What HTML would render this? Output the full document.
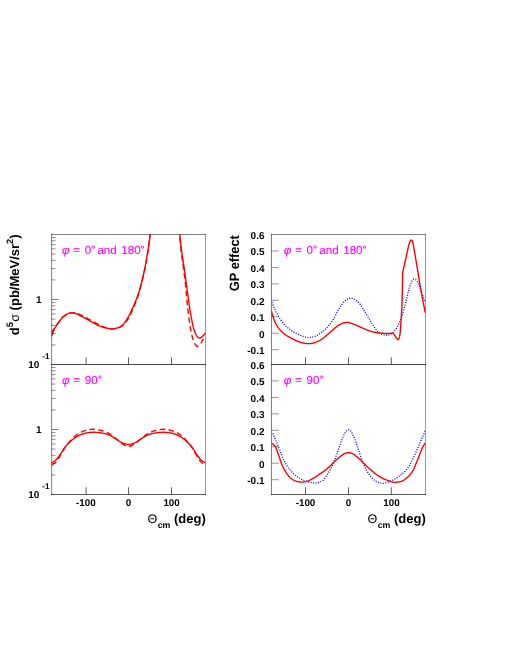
<!DOCTYPE html>
<html><head><meta charset="utf-8"><title>plot</title>
<style>html,body{margin:0;padding:0;background:#fff}body{width:510px;height:660px;overflow:hidden;font-family:"Liberation Sans",sans-serif}</style></head>
<body>
<svg width="510" height="660" viewBox="0 0 510 660" style="display:block;text-rendering:geometricPrecision;will-change:transform">
<rect width="510" height="660" fill="#fff"/>
<defs><clipPath id="cTL"><rect x="51.5" y="234.5" width="154.0" height="130.0"/></clipPath><clipPath id="cBL"><rect x="51.5" y="364.5" width="154.0" height="130.0"/></clipPath><clipPath id="cTR"><rect x="271.5" y="234.5" width="154.0" height="130.0"/></clipPath><clipPath id="cBR"><rect x="271.5" y="364.5" width="154.0" height="130.0"/></clipPath></defs>
<path d="M51.50,332.30 L51.70,332.01 L51.91,331.71 L52.11,331.41 L52.32,331.11 L52.53,330.81 L52.73,330.51 L52.94,330.21 L53.14,329.91 L53.34,329.63 L53.53,329.34 L53.72,329.07 L53.90,328.80 L54.07,328.55 L54.23,328.31 L54.38,328.08 L54.52,327.86 L54.66,327.65 L54.80,327.44 L54.94,327.22 L55.09,327.00 L55.25,326.78 L55.41,326.53 L55.60,326.28 L55.80,326.00 L56.02,325.70 L56.26,325.39 L56.51,325.06 L56.77,324.73 L57.05,324.38 L57.32,324.02 L57.61,323.67 L57.89,323.31 L58.18,322.95 L58.46,322.59 L58.73,322.24 L59.00,321.90 L59.26,321.56 L59.52,321.21 L59.78,320.86 L60.04,320.51 L60.29,320.16 L60.55,319.81 L60.81,319.47 L61.06,319.13 L61.32,318.81 L61.58,318.49 L61.84,318.19 L62.10,317.90 L62.36,317.63 L62.63,317.36 L62.90,317.11 L63.16,316.87 L63.43,316.63 L63.70,316.41 L63.97,316.19 L64.24,315.98 L64.50,315.77 L64.77,315.58 L65.04,315.39 L65.30,315.20 L65.56,315.02 L65.82,314.85 L66.08,314.68 L66.34,314.53 L66.60,314.38 L66.86,314.23 L67.11,314.09 L67.37,313.96 L67.63,313.84 L67.88,313.72 L68.14,313.61 L68.40,313.50 L68.66,313.40 L68.92,313.31 L69.17,313.22 L69.43,313.14 L69.69,313.06 L69.94,312.99 L70.20,312.93 L70.46,312.87 L70.72,312.82 L70.98,312.78 L71.24,312.74 L71.50,312.70 L71.76,312.67 L72.02,312.64 L72.29,312.62 L72.55,312.60 L72.81,312.59 L73.08,312.59 L73.34,312.59 L73.61,312.60 L73.88,312.61 L74.15,312.63 L74.42,312.66 L74.70,312.70 L74.97,312.74 L75.23,312.78 L75.49,312.83 L75.74,312.88 L76.00,312.94 L76.26,313.01 L76.53,313.08 L76.81,313.17 L77.12,313.28 L77.45,313.40 L77.81,313.54 L78.20,313.70 L78.63,313.88 L79.09,314.09 L79.58,314.32 L80.09,314.57 L80.63,314.83 L81.18,315.10 L81.73,315.38 L82.30,315.67 L82.86,315.95 L83.42,316.24 L83.97,316.52 L84.50,316.80 L85.03,317.07 L85.55,317.35 L86.08,317.63 L86.60,317.91 L87.13,318.19 L87.66,318.48 L88.18,318.76 L88.71,319.05 L89.23,319.34 L89.76,319.62 L90.28,319.91 L90.80,320.20 L91.32,320.49 L91.84,320.78 L92.35,321.08 L92.87,321.38 L93.39,321.68 L93.90,321.97 L94.41,322.27 L94.93,322.57 L95.45,322.86 L95.96,323.14 L96.48,323.43 L97.00,323.70 L97.52,323.97 L98.04,324.24 L98.57,324.51 L99.09,324.78 L99.62,325.04 L100.14,325.30 L100.67,325.55 L101.20,325.80 L101.72,326.04 L102.25,326.27 L102.77,326.49 L103.30,326.70 L103.84,326.90 L104.39,327.10 L104.95,327.29 L105.52,327.47 L106.09,327.65 L106.65,327.82 L107.20,327.98 L107.74,328.13 L108.25,328.26 L108.74,328.39 L109.19,328.50 L109.60,328.60 L109.96,328.69 L110.26,328.76 L110.52,328.82 L110.75,328.87 L110.96,328.91 L111.15,328.94 L111.34,328.96 L111.55,328.97 L111.77,328.97 L112.04,328.96 L112.34,328.93 L112.70,328.90 L113.12,328.86 L113.58,328.81 L114.09,328.75 L114.62,328.68 L115.18,328.60 L115.75,328.51 L116.33,328.41 L116.90,328.30 L117.46,328.17 L118.01,328.03 L118.52,327.87 L119.00,327.70 L119.45,327.52 L119.88,327.33 L120.29,327.13 L120.69,326.93 L121.07,326.71 L121.45,326.47 L121.82,326.21 L122.19,325.94 L122.56,325.64 L122.94,325.32 L123.31,324.98 L123.70,324.60 L124.09,324.19 L124.49,323.76 L124.89,323.30 L125.29,322.81 L125.69,322.31 L126.09,321.78 L126.48,321.24 L126.88,320.67 L127.27,320.10 L127.65,319.51 L128.03,318.91 L128.40,318.30 L128.76,317.68 L129.12,317.04 L129.46,316.39 L129.81,315.71 L130.15,315.03 L130.48,314.33 L130.81,313.62 L131.15,312.90 L131.48,312.16 L131.82,311.42 L132.16,310.66 L132.50,309.90 L132.85,309.12 L133.20,308.33 L133.56,307.52 L133.93,306.70 L134.29,305.86 L134.65,305.02 L135.01,304.17 L135.36,303.31 L135.71,302.46 L136.05,301.60 L136.38,300.75 L136.70,299.90 L137.01,299.06 L137.30,298.24 L137.59,297.42 L137.87,296.60 L138.14,295.79 L138.41,294.96 L138.67,294.13 L138.93,293.27 L139.20,292.40 L139.46,291.50 L139.73,290.57 L140.00,289.60 L140.28,288.59 L140.56,287.53 L140.84,286.43 L141.13,285.31 L141.42,284.16 L141.70,283.00 L141.98,281.83 L142.26,280.67 L142.53,279.52 L142.80,278.38 L143.05,277.27 L143.30,276.20 L143.54,275.17 L143.76,274.17 L143.98,273.19 L144.19,272.24 L144.40,271.30 L144.60,270.36 L144.80,269.41 L145.00,268.45 L145.19,267.46 L145.39,266.45 L145.59,265.40 L145.80,264.30 L146.01,263.15 L146.22,261.97 L146.44,260.74 L146.65,259.49 L146.87,258.22 L147.08,256.93 L147.29,255.63 L147.50,254.33 L147.71,253.03 L147.91,251.74 L148.11,250.46 L148.30,249.20 L148.49,247.95 L148.67,246.71 L148.84,245.47 L149.02,244.23 L149.19,242.99 L149.36,241.76 L149.52,240.52 L149.68,239.29 L149.84,238.06 L150.00,236.84 L150.15,235.62 L150.30,234.40 L150.45,233.19 L150.59,231.98 L150.73,230.77 L150.86,229.57 L151.00,228.37 L151.13,227.18 L151.25,225.98 L151.38,224.79 L151.51,223.59 L151.64,222.40 L151.77,221.20 L151.90,220.00" fill="none" stroke="#ff0000" stroke-width="1.4" stroke-linejoin="round" stroke-linecap="butt" stroke-dasharray="5.5 3.4" clip-path="url(#cTL)"/>
<path d="M177.90,220.00 L178.03,221.19 L178.17,222.37 L178.30,223.53 L178.43,224.69 L178.56,225.85 L178.69,227.02 L178.83,228.19 L178.96,229.39 L179.09,230.60 L179.23,231.83 L179.36,233.10 L179.50,234.40 L179.64,235.74 L179.77,237.12 L179.90,238.54 L180.04,239.98 L180.17,241.44 L180.31,242.91 L180.44,244.39 L180.59,245.88 L180.73,247.36 L180.88,248.82 L181.04,250.27 L181.20,251.70 L181.37,253.10 L181.55,254.49 L181.74,255.86 L181.93,257.22 L182.12,258.58 L182.32,259.93 L182.52,261.29 L182.72,262.66 L182.92,264.04 L183.12,265.44 L183.31,266.86 L183.50,268.30 L183.69,269.80 L183.89,271.38 L184.09,273.01 L184.30,274.67 L184.50,276.35 L184.70,278.02 L184.89,279.66 L185.08,281.25 L185.26,282.77 L185.42,284.20 L185.57,285.51 L185.70,286.70 L185.81,287.73 L185.90,288.61 L185.96,289.36 L186.02,290.02 L186.06,290.61 L186.10,291.15 L186.13,291.68 L186.17,292.21 L186.21,292.79 L186.26,293.43 L186.32,294.15 L186.40,295.00 L186.49,295.95 L186.59,296.96 L186.69,298.03 L186.80,299.14 L186.92,300.29 L187.04,301.46 L187.16,302.66 L187.29,303.86 L187.41,305.07 L187.54,306.27 L187.67,307.45 L187.80,308.60 L187.93,309.75 L188.07,310.92 L188.20,312.10 L188.34,313.29 L188.48,314.48 L188.63,315.66 L188.77,316.83 L188.92,317.99 L189.06,319.12 L189.21,320.22 L189.36,321.28 L189.50,322.30 L189.64,323.28 L189.78,324.22 L189.92,325.14 L190.06,326.02 L190.20,326.88 L190.34,327.72 L190.48,328.55 L190.63,329.36 L190.78,330.15 L190.93,330.94 L191.09,331.72 L191.25,332.50 L191.42,333.28 L191.60,334.07 L191.78,334.85 L191.96,335.63 L192.15,336.39 L192.34,337.14 L192.53,337.86 L192.73,338.56 L192.92,339.23 L193.12,339.86 L193.31,340.45 L193.50,341.00 L193.69,341.50 L193.89,341.96 L194.09,342.38 L194.29,342.76 L194.49,343.12 L194.68,343.44 L194.88,343.75 L195.08,344.03 L195.27,344.29 L195.45,344.54 L195.63,344.77 L195.80,345.00 L195.96,345.22 L196.11,345.43 L196.24,345.62 L196.37,345.80 L196.50,345.97 L196.62,346.11 L196.74,346.22 L196.87,346.32 L197.01,346.39 L197.16,346.42 L197.32,346.43 L197.50,346.40 L197.69,346.33 L197.90,346.23 L198.12,346.10 L198.35,345.93 L198.58,345.74 L198.83,345.52 L199.07,345.29 L199.32,345.03 L199.57,344.76 L199.81,344.48 L200.06,344.19 L200.30,343.90 L200.54,343.59 L200.78,343.24 L201.03,342.87 L201.28,342.48 L201.53,342.07 L201.78,341.66 L202.03,341.24 L202.27,340.82 L202.51,340.41 L202.75,340.02 L202.98,339.65 L203.20,339.30 L203.41,338.97 L203.62,338.66 L203.82,338.37 L204.01,338.08 L204.20,337.80 L204.39,337.53 L204.57,337.26 L204.76,336.99 L204.94,336.72 L205.12,336.45 L205.31,336.18 L205.50,335.90" fill="none" stroke="#ff0000" stroke-width="1.4" stroke-linejoin="round" stroke-linecap="butt" stroke-dasharray="5.5 3.4" clip-path="url(#cTL)"/>
<path d="M51.50,336.20 L51.70,335.68 L51.91,335.15 L52.11,334.61 L52.32,334.07 L52.53,333.53 L52.73,332.99 L52.94,332.46 L53.14,331.94 L53.34,331.44 L53.53,330.97 L53.72,330.52 L53.90,330.10 L54.07,329.72 L54.23,329.38 L54.38,329.07 L54.52,328.79 L54.66,328.52 L54.80,328.26 L54.94,328.01 L55.09,327.76 L55.25,327.50 L55.41,327.22 L55.60,326.93 L55.80,326.60 L56.02,326.25 L56.26,325.88 L56.51,325.49 L56.77,325.10 L57.05,324.69 L57.32,324.28 L57.61,323.87 L57.89,323.46 L58.18,323.05 L58.46,322.66 L58.73,322.27 L59.00,321.90 L59.26,321.54 L59.52,321.18 L59.78,320.82 L60.04,320.47 L60.29,320.12 L60.55,319.77 L60.81,319.44 L61.06,319.11 L61.32,318.79 L61.58,318.48 L61.84,318.19 L62.10,317.90 L62.36,317.63 L62.63,317.36 L62.90,317.11 L63.16,316.87 L63.43,316.63 L63.70,316.41 L63.97,316.19 L64.24,315.98 L64.50,315.77 L64.77,315.58 L65.04,315.39 L65.30,315.20 L65.56,315.02 L65.82,314.85 L66.08,314.68 L66.34,314.52 L66.60,314.37 L66.86,314.22 L67.11,314.08 L67.37,313.95 L67.63,313.82 L67.88,313.71 L68.14,313.60 L68.40,313.50 L68.66,313.41 L68.92,313.33 L69.17,313.25 L69.43,313.19 L69.69,313.13 L69.94,313.07 L70.20,313.03 L70.46,312.99 L70.72,312.96 L70.98,312.94 L71.24,312.91 L71.50,312.90 L71.76,312.89 L72.02,312.89 L72.29,312.89 L72.55,312.89 L72.81,312.91 L73.08,312.92 L73.34,312.95 L73.61,312.99 L73.88,313.03 L74.15,313.08 L74.42,313.13 L74.70,313.20 L74.97,313.27 L75.23,313.35 L75.49,313.43 L75.74,313.51 L76.00,313.61 L76.26,313.71 L76.53,313.83 L76.81,313.95 L77.12,314.09 L77.45,314.24 L77.81,314.41 L78.20,314.60 L78.63,314.81 L79.09,315.04 L79.58,315.29 L80.09,315.55 L80.63,315.83 L81.18,316.12 L81.73,316.41 L82.30,316.71 L82.86,317.02 L83.42,317.32 L83.97,317.61 L84.50,317.90 L85.03,318.18 L85.55,318.47 L86.08,318.76 L86.60,319.06 L87.13,319.35 L87.66,319.64 L88.18,319.94 L88.71,320.23 L89.23,320.53 L89.76,320.82 L90.28,321.11 L90.80,321.40 L91.32,321.69 L91.84,321.98 L92.35,322.28 L92.87,322.57 L93.39,322.87 L93.90,323.16 L94.41,323.45 L94.93,323.74 L95.45,324.02 L95.96,324.29 L96.48,324.55 L97.00,324.80 L97.52,325.04 L98.04,325.28 L98.57,325.51 L99.09,325.74 L99.62,325.96 L100.14,326.18 L100.67,326.38 L101.20,326.58 L101.72,326.77 L102.25,326.96 L102.77,327.13 L103.30,327.30 L103.84,327.46 L104.39,327.61 L104.95,327.76 L105.52,327.89 L106.09,328.02 L106.65,328.14 L107.20,328.26 L107.74,328.36 L108.25,328.46 L108.74,328.55 L109.19,328.63 L109.60,328.70 L109.96,328.76 L110.26,328.82 L110.52,328.88 L110.75,328.92 L110.96,328.96 L111.15,328.99 L111.34,329.01 L111.55,329.01 L111.77,329.00 L112.04,328.98 L112.34,328.95 L112.70,328.90 L113.12,328.84 L113.58,328.76 L114.09,328.67 L114.62,328.57 L115.18,328.46 L115.75,328.34 L116.33,328.20 L116.90,328.05 L117.46,327.88 L118.01,327.70 L118.52,327.51 L119.00,327.30 L119.45,327.08 L119.88,326.86 L120.29,326.62 L120.69,326.37 L121.07,326.11 L121.45,325.84 L121.82,325.54 L122.19,325.23 L122.56,324.89 L122.94,324.52 L123.31,324.13 L123.70,323.70 L124.09,323.24 L124.49,322.75 L124.89,322.22 L125.29,321.67 L125.69,321.10 L126.09,320.50 L126.48,319.89 L126.88,319.26 L127.27,318.63 L127.65,317.99 L128.03,317.34 L128.40,316.70 L128.76,316.05 L129.12,315.40 L129.46,314.74 L129.81,314.06 L130.15,313.38 L130.48,312.69 L130.81,311.98 L131.15,311.27 L131.48,310.55 L131.82,309.81 L132.16,309.06 L132.50,308.30 L132.85,307.52 L133.20,306.73 L133.56,305.91 L133.93,305.09 L134.29,304.25 L134.65,303.40 L135.01,302.55 L135.36,301.69 L135.71,300.84 L136.05,299.99 L136.38,299.14 L136.70,298.30 L137.01,297.48 L137.30,296.67 L137.59,295.88 L137.87,295.09 L138.14,294.30 L138.41,293.51 L138.67,292.70 L138.93,291.88 L139.20,291.03 L139.46,290.16 L139.73,289.25 L140.00,288.30 L140.28,287.30 L140.56,286.26 L140.84,285.17 L141.13,284.05 L141.42,282.91 L141.70,281.76 L141.98,280.60 L142.26,279.44 L142.53,278.29 L142.80,277.16 L143.05,276.06 L143.30,275.00 L143.54,273.98 L143.76,273.00 L143.98,272.04 L144.19,271.10 L144.40,270.18 L144.60,269.26 L144.80,268.33 L145.00,267.39 L145.19,266.42 L145.39,265.42 L145.59,264.39 L145.80,263.30 L146.01,262.16 L146.22,260.98 L146.44,259.76 L146.66,258.50 L146.87,257.23 L147.09,255.94 L147.30,254.64 L147.51,253.34 L147.72,252.05 L147.92,250.77 L148.11,249.52 L148.30,248.30 L148.48,247.10 L148.65,245.93 L148.82,244.76 L148.99,243.60 L149.15,242.46 L149.31,241.31 L149.46,240.17 L149.61,239.03 L149.76,237.88 L149.91,236.73 L150.05,235.57 L150.20,234.40 L150.34,233.22 L150.48,232.03 L150.62,230.84 L150.76,229.64 L150.89,228.44 L151.02,227.23 L151.15,226.03 L151.28,224.82 L151.41,223.61 L151.54,222.41 L151.67,221.20 L151.80,220.00" fill="none" stroke="#ff0000" stroke-width="1.4" stroke-linejoin="round" stroke-linecap="butt" clip-path="url(#cTL)"/>
<path d="M178.20,220.00 L178.33,221.19 L178.46,222.37 L178.59,223.53 L178.72,224.69 L178.85,225.85 L178.98,227.02 L179.11,228.19 L179.24,229.39 L179.38,230.60 L179.52,231.83 L179.66,233.10 L179.80,234.40 L179.95,235.74 L180.09,237.12 L180.24,238.54 L180.39,239.98 L180.54,241.44 L180.69,242.91 L180.85,244.39 L181.01,245.88 L181.18,247.36 L181.35,248.82 L181.52,250.27 L181.70,251.70 L181.89,253.10 L182.08,254.49 L182.28,255.86 L182.49,257.22 L182.70,258.58 L182.91,259.93 L183.13,261.29 L183.34,262.66 L183.56,264.04 L183.78,265.44 L183.99,266.86 L184.20,268.30 L184.41,269.80 L184.63,271.37 L184.85,272.99 L185.08,274.64 L185.30,276.30 L185.52,277.96 L185.74,279.59 L185.96,281.17 L186.16,282.70 L186.35,284.14 L186.53,285.48 L186.70,286.70 L186.85,287.79 L186.99,288.77 L187.11,289.66 L187.22,290.47 L187.33,291.21 L187.42,291.91 L187.52,292.57 L187.61,293.22 L187.70,293.87 L187.80,294.54 L187.90,295.25 L188.00,296.00 L188.11,296.78 L188.21,297.55 L188.31,298.33 L188.41,299.10 L188.52,299.87 L188.62,300.64 L188.72,301.43 L188.83,302.21 L188.94,303.01 L189.05,303.83 L189.17,304.66 L189.30,305.50 L189.43,306.36 L189.56,307.24 L189.70,308.13 L189.84,309.04 L189.98,309.95 L190.13,310.88 L190.28,311.81 L190.44,312.74 L190.60,313.68 L190.76,314.62 L190.93,315.56 L191.10,316.50 L191.28,317.46 L191.47,318.45 L191.66,319.46 L191.86,320.49 L192.06,321.52 L192.27,322.55 L192.48,323.56 L192.69,324.54 L192.89,325.49 L193.10,326.38 L193.30,327.23 L193.50,328.00 L193.70,328.71 L193.89,329.38 L194.08,330.00 L194.28,330.57 L194.47,331.12 L194.66,331.62 L194.85,332.10 L195.04,332.56 L195.23,332.99 L195.42,333.41 L195.61,333.81 L195.80,334.20 L195.99,334.57 L196.18,334.92 L196.37,335.25 L196.56,335.55 L196.74,335.83 L196.93,336.09 L197.12,336.34 L197.30,336.56 L197.48,336.77 L197.66,336.96 L197.83,337.14 L198.00,337.30 L198.16,337.45 L198.32,337.58 L198.47,337.69 L198.61,337.78 L198.76,337.86 L198.90,337.92 L199.04,337.96 L199.19,338.00 L199.33,338.01 L199.48,338.02 L199.64,338.02 L199.80,338.00 L199.97,337.97 L200.13,337.94 L200.29,337.89 L200.46,337.84 L200.62,337.77 L200.79,337.68 L200.97,337.58 L201.16,337.46 L201.35,337.33 L201.55,337.17 L201.77,337.00 L202.00,336.80 L202.25,336.57 L202.51,336.32 L202.78,336.03 L203.07,335.73 L203.37,335.40 L203.67,335.06 L203.98,334.71 L204.29,334.36 L204.59,334.01 L204.90,333.66 L205.20,333.32 L205.50,333.00" fill="none" stroke="#ff0000" stroke-width="1.4" stroke-linejoin="round" stroke-linecap="butt" clip-path="url(#cTL)"/>
<path d="M51.90,465.10 L52.27,464.81 L52.63,464.54 L52.99,464.28 L53.36,464.03 L53.72,463.77 L54.08,463.51 L54.45,463.24 L54.81,462.95 L55.18,462.64 L55.55,462.30 L55.92,461.92 L56.30,461.50 L56.68,461.04 L57.07,460.54 L57.45,460.01 L57.84,459.46 L58.24,458.88 L58.63,458.27 L59.03,457.66 L59.42,457.03 L59.82,456.40 L60.21,455.76 L60.61,455.13 L61.00,454.50 L61.39,453.87 L61.76,453.22 L62.14,452.56 L62.51,451.89 L62.88,451.21 L63.25,450.53 L63.63,449.85 L64.01,449.17 L64.41,448.49 L64.82,447.82 L65.25,447.15 L65.70,446.50 L66.17,445.85 L66.66,445.19 L67.16,444.54 L67.69,443.88 L68.22,443.22 L68.76,442.57 L69.30,441.94 L69.85,441.31 L70.39,440.70 L70.94,440.11 L71.47,439.54 L72.00,439.00 L72.52,438.48 L73.04,437.97 L73.55,437.49 L74.07,437.01 L74.59,436.56 L75.10,436.12 L75.61,435.69 L76.13,435.29 L76.65,434.89 L77.16,434.51 L77.68,434.15 L78.20,433.80 L78.72,433.47 L79.23,433.16 L79.73,432.86 L80.23,432.58 L80.74,432.32 L81.24,432.07 L81.76,431.83 L82.28,431.61 L82.81,431.39 L83.36,431.19 L83.92,430.99 L84.50,430.80 L85.10,430.61 L85.73,430.44 L86.36,430.26 L87.02,430.10 L87.68,429.95 L88.36,429.81 L89.03,429.68 L89.71,429.57 L90.39,429.47 L91.07,429.39 L91.74,429.34 L92.40,429.30 L93.05,429.28 L93.71,429.29 L94.36,429.31 L95.01,429.35 L95.66,429.41 L96.31,429.48 L96.96,429.57 L97.60,429.67 L98.25,429.79 L98.90,429.91 L99.55,430.05 L100.20,430.20 L100.85,430.36 L101.52,430.54 L102.19,430.73 L102.86,430.94 L103.53,431.16 L104.19,431.39 L104.86,431.63 L105.51,431.89 L106.16,432.15 L106.79,432.42 L107.40,432.71 L108.00,433.00 L108.58,433.30 L109.14,433.62 L109.68,433.95 L110.21,434.29 L110.73,434.63 L111.24,434.99 L111.75,435.36 L112.26,435.74 L112.76,436.12 L113.27,436.51 L113.78,436.90 L114.30,437.30 L114.83,437.71 L115.37,438.15 L115.91,438.61 L116.45,439.07 L117.00,439.55 L117.54,440.03 L118.07,440.50 L118.60,440.96 L119.12,441.41 L119.63,441.83 L120.12,442.23 L120.60,442.60 L121.06,442.94 L121.52,443.27 L121.97,443.58 L122.41,443.88 L122.84,444.16 L123.26,444.43 L123.66,444.68 L124.06,444.91 L124.44,445.13 L124.81,445.34 L125.16,445.53 L125.50,445.70 L125.82,445.86 L126.11,446.00 L126.38,446.12 L126.64,446.23 L126.88,446.32 L127.12,446.40 L127.35,446.46 L127.57,446.51 L127.79,446.55 L128.02,446.58 L128.26,446.60 L128.50,446.60 L128.74,446.60 L128.98,446.58 L129.21,446.55 L129.43,446.51 L129.65,446.46 L129.88,446.40 L130.12,446.32 L130.36,446.23 L130.62,446.12 L130.89,446.00 L131.18,445.86 L131.50,445.70 L131.84,445.53 L132.19,445.34 L132.56,445.13 L132.94,444.91 L133.34,444.68 L133.74,444.43 L134.16,444.16 L134.59,443.88 L135.03,443.58 L135.48,443.27 L135.94,442.94 L136.40,442.60 L136.88,442.23 L137.37,441.83 L137.88,441.41 L138.40,440.96 L138.93,440.50 L139.46,440.03 L140.00,439.55 L140.55,439.07 L141.09,438.61 L141.63,438.15 L142.17,437.71 L142.70,437.30 L143.22,436.90 L143.73,436.51 L144.24,436.12 L144.74,435.74 L145.25,435.36 L145.76,434.99 L146.27,434.63 L146.79,434.29 L147.32,433.95 L147.86,433.62 L148.42,433.30 L149.00,433.00 L149.60,432.71 L150.21,432.42 L150.84,432.15 L151.49,431.89 L152.14,431.63 L152.81,431.39 L153.47,431.16 L154.14,430.94 L154.81,430.73 L155.48,430.54 L156.15,430.36 L156.80,430.20 L157.45,430.05 L158.10,429.91 L158.75,429.79 L159.40,429.67 L160.04,429.57 L160.69,429.48 L161.34,429.41 L161.99,429.35 L162.64,429.31 L163.29,429.29 L163.95,429.28 L164.60,429.30 L165.26,429.34 L165.93,429.39 L166.61,429.47 L167.29,429.57 L167.97,429.68 L168.64,429.81 L169.32,429.95 L169.98,430.10 L170.64,430.26 L171.27,430.44 L171.90,430.61 L172.50,430.80 L173.08,430.99 L173.64,431.19 L174.19,431.39 L174.72,431.61 L175.24,431.83 L175.76,432.07 L176.26,432.32 L176.77,432.58 L177.27,432.86 L177.77,433.16 L178.28,433.47 L178.80,433.80 L179.32,434.15 L179.84,434.51 L180.35,434.89 L180.87,435.29 L181.39,435.69 L181.90,436.12 L182.41,436.56 L182.93,437.01 L183.45,437.49 L183.96,437.97 L184.48,438.48 L185.00,439.00 L185.53,439.54 L186.06,440.11 L186.61,440.70 L187.15,441.31 L187.70,441.94 L188.24,442.57 L188.78,443.22 L189.31,443.88 L189.84,444.54 L190.34,445.19 L190.83,445.85 L191.30,446.50 L191.75,447.15 L192.18,447.82 L192.59,448.49 L192.99,449.17 L193.37,449.85 L193.75,450.53 L194.12,451.21 L194.49,451.89 L194.86,452.56 L195.24,453.22 L195.61,453.87 L196.00,454.50 L196.39,455.13 L196.79,455.76 L197.18,456.40 L197.58,457.03 L197.97,457.66 L198.37,458.28 L198.76,458.88 L199.16,459.46 L199.55,460.01 L199.93,460.54 L200.32,461.04 L200.70,461.50 L201.08,461.92 L201.45,462.30 L201.82,462.64 L202.19,462.95 L202.55,463.24 L202.92,463.51 L203.28,463.77 L203.64,464.03 L204.01,464.28 L204.37,464.54 L204.73,464.81 L205.10,465.10" fill="none" stroke="#ff0000" stroke-width="1.4" stroke-linejoin="round" stroke-linecap="butt" stroke-dasharray="5.5 3.4" clip-path="url(#cBL)"/>
<path d="M51.90,462.70 L52.27,462.45 L52.63,462.22 L52.99,462.00 L53.36,461.79 L53.72,461.57 L54.08,461.35 L54.45,461.12 L54.81,460.87 L55.18,460.60 L55.55,460.30 L55.92,459.97 L56.30,459.60 L56.68,459.19 L57.07,458.74 L57.45,458.27 L57.84,457.76 L58.24,457.24 L58.63,456.69 L59.03,456.14 L59.42,455.57 L59.82,455.00 L60.21,454.43 L60.61,453.86 L61.00,453.30 L61.39,452.74 L61.76,452.17 L62.14,451.58 L62.51,450.99 L62.88,450.40 L63.25,449.80 L63.63,449.20 L64.01,448.61 L64.41,448.02 L64.82,447.43 L65.25,446.86 L65.70,446.30 L66.17,445.74 L66.66,445.19 L67.16,444.63 L67.69,444.07 L68.22,443.52 L68.76,442.98 L69.30,442.44 L69.85,441.92 L70.39,441.41 L70.94,440.92 L71.47,440.45 L72.00,440.00 L72.52,439.57 L73.04,439.16 L73.55,438.76 L74.07,438.38 L74.59,438.01 L75.10,437.66 L75.61,437.32 L76.13,436.99 L76.65,436.67 L77.16,436.37 L77.68,436.08 L78.20,435.80 L78.72,435.53 L79.23,435.28 L79.73,435.04 L80.23,434.82 L80.74,434.61 L81.24,434.41 L81.76,434.22 L82.28,434.04 L82.81,433.87 L83.36,433.70 L83.92,433.55 L84.50,433.40 L85.10,433.26 L85.73,433.12 L86.36,433.00 L87.02,432.88 L87.68,432.77 L88.36,432.67 L89.03,432.58 L89.71,432.50 L90.39,432.43 L91.07,432.38 L91.74,432.33 L92.40,432.30 L93.05,432.28 L93.71,432.28 L94.36,432.28 L95.01,432.30 L95.66,432.33 L96.31,432.38 L96.96,432.43 L97.60,432.49 L98.25,432.55 L98.90,432.63 L99.55,432.71 L100.20,432.80 L100.85,432.89 L101.52,433.00 L102.19,433.10 L102.86,433.22 L103.53,433.34 L104.19,433.48 L104.86,433.62 L105.51,433.77 L106.16,433.93 L106.79,434.11 L107.40,434.30 L108.00,434.50 L108.58,434.72 L109.14,434.95 L109.68,435.19 L110.21,435.45 L110.73,435.72 L111.24,435.99 L111.75,436.28 L112.26,436.57 L112.76,436.87 L113.27,437.18 L113.78,437.49 L114.30,437.80 L114.83,438.13 L115.37,438.47 L115.91,438.84 L116.45,439.21 L117.00,439.60 L117.54,439.98 L118.07,440.36 L118.60,440.73 L119.12,441.08 L119.63,441.42 L120.12,441.72 L120.60,442.00 L121.06,442.25 L121.52,442.48 L121.97,442.69 L122.41,442.89 L122.84,443.07 L123.26,443.23 L123.66,443.38 L124.06,443.53 L124.44,443.66 L124.81,443.78 L125.16,443.89 L125.50,444.00 L125.82,444.10 L126.11,444.18 L126.38,444.25 L126.64,444.31 L126.88,444.37 L127.12,444.41 L127.35,444.44 L127.57,444.46 L127.79,444.48 L128.02,444.49 L128.26,444.50 L128.50,444.50 L128.74,444.50 L128.98,444.49 L129.21,444.48 L129.43,444.46 L129.65,444.44 L129.88,444.41 L130.12,444.37 L130.36,444.31 L130.62,444.25 L130.89,444.18 L131.18,444.10 L131.50,444.00 L131.84,443.89 L132.19,443.78 L132.56,443.66 L132.94,443.53 L133.34,443.38 L133.74,443.23 L134.16,443.07 L134.59,442.89 L135.03,442.69 L135.48,442.48 L135.94,442.25 L136.40,442.00 L136.88,441.72 L137.37,441.42 L137.88,441.08 L138.40,440.73 L138.93,440.36 L139.46,439.98 L140.00,439.60 L140.55,439.21 L141.09,438.84 L141.63,438.47 L142.17,438.13 L142.70,437.80 L143.22,437.49 L143.73,437.18 L144.24,436.87 L144.74,436.57 L145.25,436.28 L145.76,435.99 L146.27,435.72 L146.79,435.45 L147.32,435.19 L147.86,434.95 L148.42,434.72 L149.00,434.50 L149.60,434.30 L150.21,434.11 L150.84,433.93 L151.49,433.77 L152.14,433.62 L152.81,433.48 L153.47,433.34 L154.14,433.22 L154.81,433.10 L155.48,433.00 L156.15,432.89 L156.80,432.80 L157.45,432.71 L158.10,432.63 L158.75,432.55 L159.40,432.49 L160.04,432.43 L160.69,432.38 L161.34,432.33 L161.99,432.30 L162.64,432.28 L163.29,432.28 L163.95,432.28 L164.60,432.30 L165.26,432.33 L165.93,432.38 L166.61,432.43 L167.29,432.50 L167.97,432.58 L168.64,432.67 L169.32,432.77 L169.98,432.88 L170.64,433.00 L171.27,433.12 L171.90,433.26 L172.50,433.40 L173.08,433.55 L173.64,433.70 L174.19,433.87 L174.72,434.04 L175.24,434.22 L175.76,434.41 L176.26,434.61 L176.77,434.82 L177.27,435.04 L177.77,435.28 L178.28,435.53 L178.80,435.80 L179.32,436.08 L179.84,436.37 L180.35,436.67 L180.87,436.99 L181.39,437.32 L181.90,437.66 L182.41,438.01 L182.93,438.38 L183.45,438.76 L183.96,439.16 L184.48,439.57 L185.00,440.00 L185.53,440.45 L186.06,440.92 L186.61,441.41 L187.15,441.92 L187.70,442.44 L188.24,442.98 L188.78,443.52 L189.31,444.07 L189.84,444.63 L190.34,445.19 L190.83,445.74 L191.30,446.30 L191.75,446.86 L192.18,447.43 L192.59,448.02 L192.99,448.61 L193.37,449.20 L193.75,449.80 L194.12,450.40 L194.49,450.99 L194.86,451.58 L195.24,452.17 L195.61,452.74 L196.00,453.30 L196.39,453.86 L196.79,454.43 L197.18,455.00 L197.58,455.57 L197.97,456.14 L198.37,456.69 L198.76,457.24 L199.16,457.76 L199.55,458.27 L199.93,458.74 L200.32,459.19 L200.70,459.60 L201.08,459.97 L201.45,460.30 L201.82,460.60 L202.19,460.87 L202.55,461.12 L202.92,461.35 L203.28,461.57 L203.64,461.79 L204.01,462.00 L204.37,462.22 L204.73,462.45 L205.10,462.70" fill="none" stroke="#ff0000" stroke-width="1.4" stroke-linejoin="round" stroke-linecap="butt" clip-path="url(#cBL)"/>
<path d="M271.90,302.20 L272.26,303.05 L272.61,303.90 L272.95,304.74 L273.28,305.58 L273.61,306.42 L273.94,307.26 L274.29,308.10 L274.66,308.96 L275.04,309.82 L275.46,310.70 L275.91,311.59 L276.40,312.50 L276.93,313.44 L277.49,314.43 L278.07,315.44 L278.68,316.47 L279.31,317.51 L279.97,318.55 L280.64,319.58 L281.33,320.60 L282.03,321.59 L282.75,322.54 L283.47,323.45 L284.20,324.30 L284.95,325.11 L285.72,325.88 L286.51,326.63 L287.32,327.36 L288.14,328.05 L288.98,328.72 L289.82,329.36 L290.66,329.98 L291.50,330.57 L292.34,331.14 L293.18,331.68 L294.00,332.20 L294.83,332.69 L295.68,333.16 L296.54,333.61 L297.41,334.02 L298.28,334.41 L299.14,334.78 L299.99,335.12 L300.82,335.44 L301.62,335.74 L302.39,336.02 L303.12,336.27 L303.80,336.50 L304.42,336.71 L304.99,336.90 L305.50,337.06 L305.99,337.20 L306.44,337.32 L306.88,337.42 L307.30,337.49 L307.74,337.54 L308.18,337.57 L308.65,337.57 L309.15,337.55 L309.70,337.50 L310.28,337.43 L310.89,337.34 L311.51,337.22 L312.16,337.08 L312.81,336.92 L313.47,336.73 L314.15,336.52 L314.82,336.29 L315.50,336.03 L316.17,335.74 L316.84,335.43 L317.50,335.10 L318.16,334.74 L318.81,334.36 L319.47,333.96 L320.13,333.54 L320.79,333.09 L321.45,332.61 L322.11,332.11 L322.77,331.59 L323.43,331.03 L324.09,330.45 L324.74,329.84 L325.40,329.20 L326.06,328.53 L326.71,327.83 L327.37,327.10 L328.03,326.34 L328.69,325.55 L329.35,324.74 L330.00,323.90 L330.66,323.04 L331.30,322.16 L331.94,321.26 L332.57,320.34 L333.20,319.40 L333.82,318.41 L334.44,317.35 L335.07,316.24 L335.69,315.08 L336.30,313.91 L336.91,312.72 L337.50,311.56 L338.09,310.42 L338.67,309.33 L339.23,308.30 L339.77,307.35 L340.30,306.50 L340.80,305.74 L341.28,305.03 L341.73,304.38 L342.17,303.79 L342.59,303.23 L343.01,302.73 L343.42,302.25 L343.83,301.81 L344.25,301.40 L344.69,301.02 L345.13,300.65 L345.60,300.30 L346.09,299.96 L346.58,299.65 L347.09,299.35 L347.61,299.09 L348.13,298.85 L348.66,298.64 L349.19,298.46 L349.72,298.33 L350.25,298.23 L350.77,298.17 L351.29,298.16 L351.80,298.20 L352.31,298.30 L352.83,298.47 L353.36,298.70 L353.89,298.97 L354.41,299.29 L354.93,299.64 L355.44,300.00 L355.94,300.38 L356.41,300.76 L356.87,301.13 L357.30,301.48 L357.70,301.80 L358.07,302.10 L358.41,302.40 L358.72,302.70 L359.01,302.99 L359.29,303.29 L359.55,303.59 L359.80,303.89 L360.04,304.20 L360.28,304.51 L360.51,304.83 L360.75,305.16 L361.00,305.50 L361.24,305.85 L361.47,306.20 L361.69,306.55 L361.90,306.91 L362.11,307.27 L362.31,307.64 L362.52,308.02 L362.73,308.41 L362.95,308.82 L363.19,309.23 L363.43,309.66 L363.70,310.10 L363.99,310.57 L364.29,311.06 L364.62,311.58 L364.96,312.12 L365.30,312.67 L365.65,313.22 L366.00,313.77 L366.34,314.31 L366.68,314.85 L367.01,315.36 L367.31,315.84 L367.60,316.30 L367.87,316.73 L368.12,317.13 L368.36,317.51 L368.59,317.88 L368.82,318.23 L369.03,318.58 L369.24,318.91 L369.45,319.24 L369.66,319.58 L369.87,319.91 L370.08,320.25 L370.30,320.60 L370.52,320.95 L370.74,321.31 L370.96,321.66 L371.17,322.01 L371.39,322.36 L371.61,322.71 L371.82,323.06 L372.04,323.40 L372.25,323.75 L372.47,324.10 L372.68,324.45 L372.90,324.80 L373.12,325.15 L373.33,325.51 L373.55,325.87 L373.77,326.24 L373.98,326.60 L374.20,326.96 L374.42,327.32 L374.63,327.67 L374.85,328.02 L375.07,328.36 L375.28,328.69 L375.50,329.00 L375.72,329.31 L375.93,329.61 L376.14,329.90 L376.35,330.19 L376.56,330.47 L376.77,330.74 L376.99,331.01 L377.20,331.27 L377.42,331.51 L377.64,331.75 L377.87,331.98 L378.10,332.20 L378.33,332.41 L378.55,332.60 L378.77,332.79 L378.99,332.96 L379.22,333.12 L379.44,333.28 L379.68,333.43 L379.93,333.57 L380.19,333.71 L380.47,333.84 L380.78,333.97 L381.10,334.10 L381.45,334.23 L381.83,334.36 L382.22,334.49 L382.64,334.62 L383.07,334.74 L383.51,334.86 L383.95,334.96 L384.41,335.05 L384.86,335.12 L385.31,335.17 L385.76,335.20 L386.20,335.20 L386.63,335.19 L387.07,335.17 L387.51,335.14 L387.95,335.10 L388.39,335.04 L388.84,334.96 L389.28,334.85 L389.73,334.71 L390.17,334.55 L390.61,334.34 L391.06,334.09 L391.50,333.80 L391.94,333.46 L392.39,333.08 L392.85,332.67 L393.30,332.22 L393.75,331.73 L394.21,331.22 L394.66,330.67 L395.10,330.10 L395.54,329.51 L395.97,328.89 L396.39,328.25 L396.80,327.60 L397.20,326.91 L397.60,326.18 L398.00,325.40 L398.39,324.59 L398.77,323.76 L399.15,322.91 L399.52,322.06 L399.88,321.20 L400.23,320.34 L400.56,319.51 L400.89,318.69 L401.20,317.90 L401.49,317.14 L401.77,316.41 L402.04,315.69 L402.29,314.98 L402.52,314.28 L402.76,313.57 L402.98,312.87 L403.20,312.16 L403.42,311.43 L403.65,310.68 L403.87,309.90 L404.10,309.10 L404.33,308.27 L404.56,307.40 L404.79,306.52 L405.01,305.62 L405.24,304.71 L405.46,303.78 L405.69,302.85 L405.91,301.91 L406.13,300.97 L406.35,300.04 L406.58,299.12 L406.80,298.20 L407.02,297.28 L407.25,296.34 L407.47,295.38 L407.70,294.41 L407.92,293.45 L408.14,292.49 L408.37,291.55 L408.59,290.63 L408.82,289.74 L409.04,288.88 L409.27,288.06 L409.50,287.30 L409.73,286.57 L409.97,285.87 L410.21,285.19 L410.46,284.53 L410.70,283.90 L410.94,283.31 L411.18,282.74 L411.42,282.21 L411.65,281.72 L411.88,281.27 L412.09,280.86 L412.30,280.50 L412.49,280.18 L412.67,279.91 L412.84,279.69 L413.00,279.51 L413.15,279.36 L413.31,279.25 L413.46,279.17 L413.61,279.11 L413.77,279.08 L413.94,279.07 L414.11,279.08 L414.30,279.10 L414.50,279.13 L414.71,279.19 L414.92,279.26 L415.14,279.36 L415.37,279.48 L415.60,279.62 L415.83,279.80 L416.07,280.00 L416.30,280.23 L416.54,280.48 L416.77,280.78 L417.00,281.10 L417.23,281.47 L417.46,281.88 L417.70,282.32 L417.93,282.81 L418.16,283.32 L418.40,283.86 L418.64,284.41 L418.87,284.98 L419.10,285.56 L419.34,286.14 L419.57,286.72 L419.80,287.30 L420.03,287.88 L420.26,288.47 L420.48,289.08 L420.71,289.70 L420.93,290.33 L421.16,290.97 L421.38,291.61 L421.60,292.25 L421.83,292.89 L422.05,293.53 L422.28,294.17 L422.50,294.80 L422.73,295.43 L422.95,296.05 L423.18,296.68 L423.40,297.30 L423.62,297.93 L423.85,298.55 L424.07,299.18 L424.30,299.80 L424.52,300.43 L424.75,301.05 L424.97,301.68 L425.20,302.30" fill="none" stroke="#0000ff" stroke-width="1.35" stroke-linejoin="round" stroke-linecap="butt" stroke-dasharray="1.0 1.5" clip-path="url(#cTR)"/>
<path d="M271.30,311.50 L271.36,311.65 L271.41,311.76 L271.45,311.85 L271.49,311.93 L271.53,312.01 L271.58,312.11 L271.62,312.22 L271.69,312.37 L271.76,312.56 L271.85,312.80 L271.96,313.11 L272.10,313.50 L272.26,313.98 L272.44,314.54 L272.63,315.17 L272.84,315.86 L273.06,316.59 L273.29,317.35 L273.54,318.13 L273.80,318.91 L274.06,319.68 L274.33,320.43 L274.61,321.14 L274.90,321.80 L275.19,322.42 L275.49,323.04 L275.80,323.64 L276.12,324.23 L276.45,324.81 L276.78,325.38 L277.13,325.93 L277.48,326.49 L277.85,327.03 L278.22,327.56 L278.61,328.08 L279.00,328.60 L279.41,329.11 L279.82,329.61 L280.25,330.10 L280.68,330.58 L281.13,331.05 L281.58,331.52 L282.05,331.97 L282.52,332.42 L283.00,332.85 L283.49,333.28 L283.99,333.69 L284.50,334.10 L285.02,334.49 L285.54,334.87 L286.07,335.23 L286.61,335.58 L287.17,335.92 L287.72,336.26 L288.29,336.58 L288.87,336.91 L289.46,337.23 L290.06,337.55 L290.68,337.87 L291.30,338.20 L291.94,338.53 L292.59,338.88 L293.26,339.22 L293.93,339.57 L294.62,339.92 L295.32,340.26 L296.02,340.59 L296.73,340.91 L297.45,341.21 L298.16,341.50 L298.88,341.76 L299.60,342.00 L300.33,342.22 L301.06,342.43 L301.82,342.62 L302.57,342.81 L303.34,342.97 L304.10,343.13 L304.86,343.26 L305.61,343.37 L306.36,343.46 L307.09,343.53 L307.81,343.58 L308.50,343.60 L309.18,343.60 L309.84,343.57 L310.49,343.52 L311.13,343.44 L311.75,343.35 L312.38,343.24 L312.99,343.11 L313.60,342.96 L314.20,342.79 L314.80,342.61 L315.40,342.41 L316.00,342.20 L316.60,341.97 L317.18,341.73 L317.77,341.47 L318.34,341.19 L318.92,340.89 L319.49,340.57 L320.06,340.25 L320.62,339.90 L321.19,339.55 L321.76,339.18 L322.33,338.79 L322.90,338.40 L323.48,337.98 L324.07,337.54 L324.66,337.06 L325.26,336.57 L325.86,336.06 L326.46,335.55 L327.05,335.03 L327.63,334.52 L328.19,334.01 L328.75,333.52 L329.28,333.05 L329.80,332.60 L330.29,332.17 L330.76,331.75 L331.22,331.34 L331.66,330.94 L332.08,330.55 L332.50,330.17 L332.91,329.79 L333.32,329.42 L333.73,329.06 L334.15,328.70 L334.57,328.35 L335.00,328.00 L335.44,327.65 L335.87,327.31 L336.30,326.97 L336.73,326.63 L337.16,326.30 L337.59,325.98 L338.02,325.67 L338.46,325.37 L338.91,325.08 L339.36,324.80 L339.83,324.54 L340.30,324.30 L340.79,324.07 L341.28,323.84 L341.79,323.62 L342.30,323.41 L342.82,323.21 L343.35,323.03 L343.88,322.87 L344.41,322.72 L344.94,322.60 L345.46,322.50 L345.98,322.44 L346.50,322.40 L347.00,322.39 L347.49,322.41 L347.97,322.46 L348.44,322.53 L348.91,322.63 L349.38,322.74 L349.86,322.88 L350.36,323.03 L350.88,323.20 L351.42,323.39 L351.99,323.59 L352.60,323.80 L353.24,324.03 L353.92,324.30 L354.63,324.59 L355.36,324.90 L356.11,325.22 L356.88,325.56 L357.66,325.91 L358.44,326.26 L359.22,326.61 L359.99,326.95 L360.75,327.28 L361.50,327.60 L362.24,327.91 L362.97,328.23 L363.71,328.56 L364.44,328.89 L365.17,329.21 L365.91,329.53 L366.64,329.84 L367.37,330.15 L368.10,330.44 L368.83,330.71 L369.57,330.97 L370.30,331.20 L371.03,331.41 L371.77,331.61 L372.50,331.78 L373.23,331.95 L373.97,332.10 L374.70,332.24 L375.43,332.37 L376.17,332.49 L376.90,332.60 L377.63,332.70 L378.37,332.80 L379.10,332.90 L379.85,332.99 L380.62,333.08 L381.40,333.16 L382.19,333.23 L382.98,333.29 L383.77,333.34 L384.54,333.39 L385.29,333.43 L386.00,333.46 L386.68,333.48 L387.32,333.50 L387.90,333.50 L388.43,333.49 L388.90,333.47 L389.33,333.43 L389.72,333.39 L390.08,333.34 L390.42,333.27 L390.74,333.21 L391.06,333.14 L391.38,333.08 L391.70,333.01 L392.04,332.95 L392.40,332.90 L392.50,332.98 L392.59,333.05 L392.69,333.12 L392.78,333.19 L392.87,333.25 L392.97,333.32 L393.06,333.39 L393.16,333.47 L393.26,333.56 L393.37,333.66 L393.48,333.77 L393.60,333.90 L393.72,334.05 L393.85,334.21 L393.99,334.38 L394.13,334.56 L394.27,334.76 L394.41,334.96 L394.56,335.16 L394.71,335.37 L394.86,335.58 L395.01,335.79 L395.15,336.00 L395.30,336.20 L395.45,336.41 L395.60,336.62 L395.76,336.85 L395.92,337.07 L396.08,337.30 L396.24,337.53 L396.39,337.75 L396.55,337.97 L396.70,338.18 L396.84,338.37 L396.97,338.54 L397.10,338.70 L397.22,338.84 L397.32,338.95 L397.42,339.06 L397.52,339.14 L397.61,339.22 L397.69,339.29 L397.78,339.36 L397.86,339.42 L397.94,339.49 L398.02,339.55 L398.11,339.62 L398.20,339.70 L398.28,339.53 L398.37,339.38 L398.45,339.23 L398.54,339.08 L398.62,338.94 L398.71,338.79 L398.79,338.63 L398.87,338.46 L398.96,338.28 L399.04,338.08 L399.12,337.85 L399.20,337.60 L399.28,337.35 L399.35,337.12 L399.43,336.90 L399.50,336.68 L399.58,336.44 L399.65,336.18 L399.72,335.87 L399.80,335.51 L399.87,335.09 L399.95,334.59 L400.02,333.99 L400.10,333.30 L400.18,332.50 L400.26,331.59 L400.35,330.60 L400.43,329.54 L400.51,328.40 L400.60,327.22 L400.69,325.99 L400.77,324.73 L400.85,323.45 L400.94,322.16 L401.02,320.87 L401.10,319.60 L401.18,318.36 L401.26,317.16 L401.34,315.98 L401.41,314.80 L401.49,313.60 L401.57,312.36 L401.64,311.06 L401.72,309.69 L401.79,308.21 L401.86,306.62 L401.93,304.89 L402.00,303.00 L402.07,300.94 L402.13,298.70 L402.19,296.32 L402.25,293.81 L402.31,291.21 L402.36,288.53 L402.42,285.81 L402.47,283.06 L402.53,280.31 L402.59,277.58 L402.64,274.90 L402.70,272.30 L402.93,271.28 L403.17,270.25 L403.40,269.23 L403.64,268.20 L403.87,267.18 L404.11,266.15 L404.34,265.12 L404.57,264.10 L404.81,263.07 L405.04,262.05 L405.27,261.02 L405.50,260.00 L405.73,258.96 L405.97,257.88 L406.20,256.78 L406.44,255.67 L406.68,254.56 L406.91,253.46 L407.14,252.39 L407.37,251.34 L407.59,250.34 L407.80,249.39 L408.01,248.51 L408.20,247.70 L408.38,246.96 L408.56,246.27 L408.73,245.63 L408.89,245.03 L409.04,244.48 L409.19,243.97 L409.34,243.49 L409.48,243.06 L409.61,242.65 L409.75,242.27 L409.87,241.92 L410.00,241.60 L410.12,241.31 L410.23,241.05 L410.34,240.84 L410.43,240.66 L410.53,240.51 L410.62,240.39 L410.71,240.30 L410.80,240.23 L410.89,240.19 L410.99,240.18 L411.09,240.18 L411.20,240.20 L411.31,240.22 L411.42,240.23 L411.54,240.24 L411.65,240.27 L411.76,240.32 L411.88,240.40 L412.00,240.53 L412.13,240.72 L412.26,240.98 L412.40,241.32 L412.55,241.76 L412.70,242.30 L412.86,242.95 L413.03,243.70 L413.21,244.54 L413.39,245.46 L413.58,246.45 L413.77,247.51 L413.97,248.61 L414.17,249.75 L414.38,250.92 L414.58,252.11 L414.79,253.30 L415.00,254.50 L415.21,255.71 L415.42,256.94 L415.63,258.21 L415.84,259.50 L416.06,260.83 L416.28,262.18 L416.51,263.56 L416.73,264.97 L416.97,266.41 L417.20,267.88 L417.45,269.38 L417.70,270.90 L417.96,272.46 L418.22,274.07 L418.48,275.72 L418.76,277.41 L419.03,279.12 L419.31,280.86 L419.60,282.61 L419.89,284.37 L420.18,286.14 L420.48,287.90 L420.79,289.66 L421.10,291.40 L421.42,293.14 L421.74,294.88 L422.08,296.63 L422.41,298.39 L422.76,300.15 L423.11,301.91 L423.46,303.68 L423.81,305.44 L424.16,307.21 L424.51,308.98 L424.86,310.74 L425.20,312.50" fill="none" stroke="#ff0000" stroke-width="1.4" stroke-linejoin="round" stroke-linecap="butt" clip-path="url(#cTR)"/>
<path d="M272.90,433.50 L273.27,434.37 L273.64,435.24 L274.01,436.09 L274.37,436.93 L274.74,437.78 L275.11,438.63 L275.48,439.49 L275.85,440.37 L276.23,441.26 L276.61,442.18 L277.00,443.12 L277.40,444.10 L277.81,445.13 L278.23,446.20 L278.65,447.32 L279.08,448.47 L279.51,449.63 L279.95,450.81 L280.39,451.98 L280.83,453.13 L281.28,454.26 L281.72,455.36 L282.16,456.41 L282.60,457.40 L283.03,458.34 L283.46,459.25 L283.88,460.12 L284.29,460.97 L284.71,461.79 L285.13,462.59 L285.56,463.37 L286.00,464.13 L286.45,464.89 L286.91,465.63 L287.39,466.37 L287.90,467.10 L288.42,467.83 L288.96,468.55 L289.51,469.26 L290.07,469.96 L290.64,470.65 L291.23,471.32 L291.83,471.98 L292.44,472.63 L293.06,473.25 L293.70,473.85 L294.34,474.44 L295.00,475.00 L295.67,475.54 L296.35,476.07 L297.04,476.57 L297.74,477.06 L298.46,477.53 L299.18,477.98 L299.92,478.41 L300.67,478.83 L301.43,479.23 L302.21,479.60 L303.00,479.96 L303.80,480.30 L304.63,480.62 L305.50,480.94 L306.41,481.24 L307.33,481.53 L308.27,481.79 L309.21,482.04 L310.14,482.26 L311.06,482.45 L311.95,482.62 L312.82,482.75 L313.63,482.84 L314.40,482.90 L315.13,482.91 L315.83,482.88 L316.51,482.81 L317.16,482.71 L317.79,482.58 L318.39,482.42 L318.97,482.24 L319.53,482.04 L320.06,481.84 L320.57,481.63 L321.05,481.41 L321.50,481.20 L321.91,480.99 L322.28,480.79 L322.60,480.58 L322.89,480.37 L323.15,480.14 L323.40,479.90 L323.64,479.64 L323.88,479.36 L324.12,479.04 L324.39,478.70 L324.68,478.32 L325.00,477.90 L325.35,477.43 L325.73,476.91 L326.12,476.35 L326.52,475.76 L326.93,475.13 L327.35,474.49 L327.77,473.83 L328.18,473.17 L328.58,472.50 L328.97,471.85 L329.35,471.21 L329.70,470.60 L330.03,470.01 L330.35,469.43 L330.66,468.86 L330.95,468.30 L331.24,467.74 L331.52,467.18 L331.80,466.61 L332.07,466.03 L332.35,465.43 L332.62,464.81 L332.91,464.17 L333.20,463.50 L333.50,462.80 L333.80,462.07 L334.10,461.33 L334.40,460.56 L334.70,459.78 L335.00,458.98 L335.30,458.18 L335.60,457.36 L335.90,456.55 L336.20,455.73 L336.50,454.91 L336.80,454.10 L337.10,453.28 L337.39,452.45 L337.68,451.61 L337.97,450.77 L338.27,449.92 L338.56,449.06 L338.85,448.21 L339.14,447.37 L339.43,446.53 L339.72,445.70 L340.01,444.89 L340.30,444.10 L340.59,443.31 L340.89,442.51 L341.19,441.71 L341.49,440.92 L341.79,440.13 L342.09,439.36 L342.39,438.60 L342.69,437.87 L342.97,437.17 L343.26,436.50 L343.53,435.88 L343.80,435.30 L344.06,434.76 L344.32,434.26 L344.57,433.80 L344.82,433.36 L345.06,432.95 L345.30,432.58 L345.53,432.22 L345.76,431.90 L345.98,431.59 L346.19,431.31 L346.40,431.05 L346.60,430.80 L346.79,430.58 L346.97,430.38 L347.14,430.21 L347.30,430.06 L347.45,429.94 L347.60,429.84 L347.75,429.76 L347.89,429.69 L348.04,429.65 L348.19,429.62 L348.34,429.60 L348.50,429.60 L348.66,429.61 L348.82,429.63 L348.97,429.66 L349.12,429.71 L349.28,429.77 L349.43,429.86 L349.59,429.96 L349.76,430.09 L349.93,430.25 L350.11,430.43 L350.30,430.65 L350.50,430.90 L350.71,431.18 L350.94,431.49 L351.17,431.82 L351.41,432.19 L351.66,432.57 L351.92,432.99 L352.18,433.43 L352.44,433.89 L352.71,434.38 L352.97,434.90 L353.24,435.44 L353.50,436.00 L353.76,436.59 L354.03,437.22 L354.30,437.88 L354.57,438.56 L354.84,439.27 L355.12,440.01 L355.40,440.76 L355.67,441.53 L355.95,442.31 L356.23,443.10 L356.52,443.90 L356.80,444.70 L357.08,445.52 L357.37,446.37 L357.66,447.24 L357.95,448.14 L358.24,449.04 L358.54,449.96 L358.83,450.87 L359.13,451.79 L359.42,452.69 L359.71,453.58 L360.01,454.45 L360.30,455.30 L360.59,456.13 L360.88,456.96 L361.17,457.79 L361.46,458.61 L361.75,459.42 L362.04,460.22 L362.33,461.01 L362.63,461.78 L362.92,462.54 L363.21,463.28 L363.50,464.00 L363.80,464.70 L364.09,465.37 L364.38,466.02 L364.67,466.65 L364.95,467.26 L365.24,467.86 L365.52,468.44 L365.82,469.01 L366.11,469.57 L366.42,470.13 L366.74,470.68 L367.06,471.24 L367.40,471.80 L367.75,472.37 L368.12,472.94 L368.50,473.51 L368.89,474.09 L369.28,474.66 L369.68,475.22 L370.09,475.77 L370.49,476.30 L370.90,476.81 L371.30,477.30 L371.70,477.77 L372.10,478.20 L372.49,478.61 L372.88,478.99 L373.28,479.35 L373.67,479.69 L374.06,480.01 L374.45,480.31 L374.84,480.60 L375.23,480.87 L375.63,481.12 L376.02,481.36 L376.41,481.59 L376.80,481.80 L377.20,482.00 L377.60,482.18 L378.00,482.34 L378.41,482.48 L378.82,482.61 L379.22,482.73 L379.63,482.83 L380.02,482.92 L380.41,483.00 L380.79,483.07 L381.15,483.14 L381.50,483.20 L381.83,483.25 L382.14,483.30 L382.44,483.33 L382.72,483.36 L383.00,483.38 L383.27,483.38 L383.54,483.38 L383.81,483.36 L384.09,483.34 L384.38,483.30 L384.68,483.26 L385.00,483.20 L385.32,483.14 L385.63,483.08 L385.93,483.01 L386.24,482.94 L386.55,482.85 L386.87,482.76 L387.21,482.64 L387.57,482.51 L387.97,482.35 L388.40,482.16 L388.88,481.95 L389.40,481.70 L389.98,481.42 L390.61,481.12 L391.29,480.79 L392.00,480.43 L392.75,480.06 L393.52,479.66 L394.30,479.23 L395.10,478.79 L395.89,478.32 L396.68,477.84 L397.45,477.33 L398.20,476.80 L398.94,476.26 L399.70,475.70 L400.46,475.12 L401.23,474.52 L402.00,473.90 L402.76,473.26 L403.52,472.60 L404.27,471.90 L405.01,471.18 L405.73,470.42 L406.42,469.63 L407.10,468.80 L407.76,467.93 L408.40,467.00 L409.02,466.03 L409.64,465.02 L410.24,463.98 L410.83,462.93 L411.40,461.85 L411.96,460.77 L412.51,459.68 L413.05,458.61 L413.58,457.54 L414.10,456.50 L414.60,455.47 L415.09,454.43 L415.55,453.39 L416.00,452.34 L416.44,451.29 L416.88,450.25 L417.30,449.21 L417.72,448.17 L418.14,447.14 L418.55,446.12 L418.97,445.10 L419.40,444.10 L419.84,443.08 L420.29,442.03 L420.76,440.95 L421.23,439.87 L421.70,438.79 L422.16,437.74 L422.60,436.72 L423.03,435.74 L423.42,434.83 L423.79,433.99 L424.12,433.24 L424.40,432.60 L424.63,432.07 L424.82,431.65 L424.97,431.32 L425.08,431.07 L425.17,430.89 L425.24,430.74 L425.29,430.63 L425.34,430.54 L425.39,430.44 L425.44,430.33 L425.51,430.19 L425.60,430.00" fill="none" stroke="#0000ff" stroke-width="1.35" stroke-linejoin="round" stroke-linecap="butt" stroke-dasharray="1.0 1.5" clip-path="url(#cBR)"/>
<path d="M272.10,443.20 L275.60,446.80 L275.89,447.61 L276.18,448.42 L276.48,449.23 L276.77,450.03 L277.06,450.84 L277.35,451.65 L277.64,452.46 L277.93,453.27 L278.23,454.07 L278.52,454.88 L278.81,455.69 L279.10,456.50 L279.39,457.31 L279.66,458.13 L279.93,458.95 L280.20,459.77 L280.47,460.59 L280.74,461.41 L281.01,462.22 L281.30,463.03 L281.60,463.84 L281.91,464.64 L282.25,465.42 L282.60,466.20 L282.98,466.98 L283.38,467.77 L283.80,468.56 L284.23,469.35 L284.68,470.13 L285.14,470.91 L285.60,471.66 L286.07,472.40 L286.53,473.10 L287.00,473.78 L287.45,474.41 L287.90,475.00 L288.34,475.55 L288.76,476.06 L289.18,476.54 L289.60,476.99 L290.02,477.41 L290.44,477.81 L290.86,478.18 L291.30,478.53 L291.75,478.87 L292.21,479.19 L292.70,479.50 L293.20,479.80 L293.73,480.09 L294.28,480.37 L294.85,480.63 L295.43,480.87 L296.03,481.10 L296.64,481.31 L297.25,481.50 L297.87,481.66 L298.48,481.81 L299.10,481.93 L299.70,482.03 L300.30,482.10 L300.89,482.15 L301.48,482.17 L302.08,482.16 L302.67,482.14 L303.26,482.09 L303.86,482.02 L304.45,481.93 L305.04,481.82 L305.63,481.69 L306.22,481.54 L306.81,481.38 L307.40,481.20 L307.99,481.00 L308.57,480.77 L309.15,480.52 L309.74,480.24 L310.32,479.95 L310.90,479.64 L311.48,479.31 L312.06,478.98 L312.65,478.64 L313.23,478.29 L313.81,477.95 L314.40,477.60 L315.00,477.24 L315.62,476.85 L316.25,476.45 L316.89,476.03 L317.53,475.61 L318.17,475.18 L318.79,474.76 L319.40,474.34 L319.98,473.95 L320.52,473.57 L321.03,473.22 L321.50,472.90 L321.91,472.62 L322.26,472.39 L322.57,472.18 L322.84,472.00 L323.09,471.83 L323.32,471.67 L323.55,471.51 L323.79,471.34 L324.04,471.16 L324.32,470.94 L324.64,470.69 L325.00,470.40 L325.41,470.07 L325.84,469.71 L326.31,469.33 L326.79,468.92 L327.29,468.50 L327.80,468.06 L328.32,467.61 L328.84,467.16 L329.37,466.69 L329.89,466.23 L330.40,465.76 L330.90,465.30 L331.39,464.83 L331.88,464.35 L332.38,463.85 L332.87,463.34 L333.36,462.83 L333.86,462.32 L334.35,461.81 L334.84,461.30 L335.33,460.80 L335.82,460.32 L336.31,459.85 L336.80,459.40 L337.30,458.96 L337.80,458.52 L338.32,458.09 L338.84,457.66 L339.37,457.24 L339.88,456.83 L340.39,456.44 L340.88,456.06 L341.35,455.71 L341.80,455.38 L342.22,455.07 L342.60,454.80 L342.95,454.56 L343.26,454.35 L343.55,454.16 L343.81,454.00 L344.05,453.86 L344.28,453.74 L344.50,453.64 L344.71,453.54 L344.92,453.45 L345.14,453.37 L345.36,453.29 L345.60,453.20 L345.85,453.12 L346.09,453.04 L346.33,452.97 L346.57,452.91 L346.82,452.86 L347.06,452.82 L347.30,452.78 L347.54,452.75 L347.78,452.73 L348.02,452.71 L348.26,452.70 L348.50,452.70 L348.74,452.70 L348.98,452.71 L349.22,452.73 L349.46,452.75 L349.70,452.78 L349.94,452.82 L350.18,452.86 L350.43,452.91 L350.67,452.97 L350.91,453.04 L351.15,453.12 L351.40,453.20 L351.64,453.28 L351.86,453.36 L352.07,453.44 L352.29,453.53 L352.50,453.62 L352.71,453.72 L352.94,453.84 L353.18,453.97 L353.44,454.14 L353.73,454.32 L354.05,454.54 L354.40,454.80 L354.79,455.09 L355.22,455.43 L355.67,455.79 L356.15,456.18 L356.65,456.59 L357.17,457.03 L357.69,457.47 L358.23,457.93 L358.76,458.40 L359.28,458.87 L359.80,459.34 L360.30,459.80 L360.79,460.27 L361.28,460.75 L361.78,461.25 L362.27,461.76 L362.76,462.27 L363.25,462.79 L363.74,463.31 L364.23,463.82 L364.73,464.33 L365.22,464.83 L365.71,465.32 L366.20,465.80 L366.69,466.26 L367.18,466.72 L367.68,467.17 L368.17,467.62 L368.66,468.06 L369.16,468.49 L369.65,468.92 L370.14,469.35 L370.63,469.77 L371.12,470.18 L371.61,470.59 L372.10,471.00 L372.58,471.40 L373.06,471.80 L373.53,472.19 L373.99,472.57 L374.46,472.96 L374.93,473.33 L375.40,473.70 L375.87,474.07 L376.36,474.43 L376.86,474.79 L377.37,475.15 L377.90,475.50 L378.44,475.85 L379.00,476.20 L379.56,476.55 L380.14,476.89 L380.73,477.23 L381.32,477.56 L381.92,477.89 L382.53,478.21 L383.14,478.52 L383.76,478.83 L384.38,479.12 L385.00,479.40 L385.64,479.68 L386.32,479.95 L387.02,480.22 L387.73,480.49 L388.45,480.74 L389.17,480.99 L389.87,481.22 L390.56,481.44 L391.21,481.64 L391.82,481.81 L392.39,481.97 L392.90,482.10 L393.35,482.20 L393.73,482.28 L394.06,482.33 L394.36,482.37 L394.62,482.38 L394.86,482.38 L395.10,482.37 L395.33,482.34 L395.58,482.31 L395.85,482.28 L396.15,482.24 L396.50,482.20 L396.88,482.16 L397.28,482.13 L397.71,482.09 L398.14,482.04 L398.59,481.99 L399.04,481.93 L399.51,481.86 L399.97,481.77 L400.44,481.66 L400.90,481.53 L401.35,481.38 L401.80,481.20 L402.24,481.00 L402.68,480.78 L403.12,480.54 L403.57,480.29 L404.01,480.01 L404.45,479.72 L404.89,479.41 L405.33,479.08 L405.78,478.74 L406.22,478.37 L406.66,478.00 L407.10,477.60 L407.54,477.19 L407.99,476.77 L408.45,476.34 L408.90,475.89 L409.35,475.42 L409.81,474.93 L410.26,474.42 L410.70,473.89 L411.14,473.34 L411.57,472.75 L411.99,472.14 L412.40,471.50 L412.80,470.82 L413.20,470.08 L413.58,469.31 L413.97,468.50 L414.34,467.67 L414.71,466.82 L415.08,465.97 L415.43,465.11 L415.78,464.25 L416.13,463.41 L416.47,462.59 L416.80,461.80 L417.13,461.02 L417.45,460.24 L417.76,459.45 L418.07,458.67 L418.37,457.89 L418.66,457.12 L418.95,456.37 L419.23,455.63 L419.51,454.91 L419.78,454.21 L420.04,453.54 L420.30,452.90 L420.55,452.29 L420.79,451.69 L421.02,451.12 L421.24,450.57 L421.46,450.03 L421.68,449.52 L421.88,449.02 L422.09,448.54 L422.29,448.08 L422.49,447.64 L422.70,447.21 L422.90,446.80 L423.10,446.41 L423.30,446.06 L423.50,445.72 L423.69,445.41 L423.88,445.12 L424.07,444.84 L424.26,444.57 L424.44,444.31 L424.63,444.04 L424.82,443.77 L425.01,443.49 L425.20,443.20" fill="none" stroke="#ff0000" stroke-width="1.4" stroke-linejoin="round" stroke-linecap="butt" clip-path="url(#cBR)"/>
<line x1="51.65" y1="234.00" x2="51.65" y2="495.00" stroke="#000" stroke-width="0.5"/>
<line x1="205.50" y1="234.00" x2="205.50" y2="495.00" stroke="#000" stroke-width="0.4"/>
<line x1="51.00" y1="234.50" x2="206.00" y2="234.50" stroke="#000" stroke-width="0.5"/>
<line x1="51.00" y1="364.50" x2="206.00" y2="364.50" stroke="#000" stroke-width="0.72"/>
<line x1="51.00" y1="494.50" x2="206.00" y2="494.50" stroke="#000" stroke-width="0.65"/>
<line x1="86.10" y1="364.50" x2="86.10" y2="357.30" stroke="#000" stroke-width="0.62"/>
<line x1="128.50" y1="364.50" x2="128.50" y2="357.30" stroke="#000" stroke-width="0.62"/>
<line x1="171.50" y1="364.50" x2="171.50" y2="357.30" stroke="#000" stroke-width="0.62"/>
<line x1="86.10" y1="494.50" x2="86.10" y2="487.30" stroke="#000" stroke-width="0.62"/>
<line x1="128.50" y1="494.50" x2="128.50" y2="487.30" stroke="#000" stroke-width="0.62"/>
<line x1="171.50" y1="494.50" x2="171.50" y2="487.30" stroke="#000" stroke-width="0.62"/>
<line x1="271.50" y1="234.00" x2="271.50" y2="495.00" stroke="#000" stroke-width="0.5"/>
<line x1="425.50" y1="234.00" x2="425.50" y2="495.00" stroke="#000" stroke-width="0.4"/>
<line x1="271.00" y1="234.50" x2="426.00" y2="234.50" stroke="#000" stroke-width="0.5"/>
<line x1="271.00" y1="364.50" x2="426.00" y2="364.50" stroke="#000" stroke-width="0.72"/>
<line x1="271.00" y1="494.50" x2="426.00" y2="494.50" stroke="#000" stroke-width="0.65"/>
<line x1="305.50" y1="364.50" x2="305.50" y2="357.30" stroke="#000" stroke-width="0.62"/>
<line x1="348.50" y1="364.50" x2="348.50" y2="357.30" stroke="#000" stroke-width="0.62"/>
<line x1="391.30" y1="364.50" x2="391.30" y2="357.30" stroke="#000" stroke-width="0.62"/>
<line x1="305.50" y1="494.50" x2="305.50" y2="487.30" stroke="#000" stroke-width="0.62"/>
<line x1="348.50" y1="494.50" x2="348.50" y2="487.30" stroke="#000" stroke-width="0.62"/>
<line x1="391.30" y1="494.50" x2="391.30" y2="487.30" stroke="#000" stroke-width="0.62"/>
<line x1="51.50" y1="299.50" x2="58.70" y2="299.50" stroke="#000" stroke-width="0.5"/>
<line x1="51.50" y1="279.93" x2="55.50" y2="279.93" stroke="#000" stroke-width="0.45"/>
<line x1="51.50" y1="268.49" x2="55.50" y2="268.49" stroke="#000" stroke-width="0.45"/>
<line x1="51.50" y1="260.37" x2="55.50" y2="260.37" stroke="#000" stroke-width="0.45"/>
<line x1="51.50" y1="254.07" x2="55.50" y2="254.07" stroke="#000" stroke-width="0.45"/>
<line x1="51.50" y1="248.92" x2="55.50" y2="248.92" stroke="#000" stroke-width="0.45"/>
<line x1="51.50" y1="244.57" x2="55.50" y2="244.57" stroke="#000" stroke-width="0.45"/>
<line x1="51.50" y1="240.80" x2="55.50" y2="240.80" stroke="#000" stroke-width="0.45"/>
<line x1="51.50" y1="237.47" x2="55.50" y2="237.47" stroke="#000" stroke-width="0.45"/>
<line x1="51.50" y1="344.93" x2="55.50" y2="344.93" stroke="#000" stroke-width="0.45"/>
<line x1="51.50" y1="333.49" x2="55.50" y2="333.49" stroke="#000" stroke-width="0.45"/>
<line x1="51.50" y1="325.37" x2="55.50" y2="325.37" stroke="#000" stroke-width="0.45"/>
<line x1="51.50" y1="319.07" x2="55.50" y2="319.07" stroke="#000" stroke-width="0.45"/>
<line x1="51.50" y1="313.92" x2="55.50" y2="313.92" stroke="#000" stroke-width="0.45"/>
<line x1="51.50" y1="309.57" x2="55.50" y2="309.57" stroke="#000" stroke-width="0.45"/>
<line x1="51.50" y1="305.80" x2="55.50" y2="305.80" stroke="#000" stroke-width="0.45"/>
<line x1="51.50" y1="302.47" x2="55.50" y2="302.47" stroke="#000" stroke-width="0.45"/>
<line x1="51.50" y1="429.50" x2="58.70" y2="429.50" stroke="#000" stroke-width="0.5"/>
<line x1="51.50" y1="409.93" x2="55.50" y2="409.93" stroke="#000" stroke-width="0.45"/>
<line x1="51.50" y1="398.49" x2="55.50" y2="398.49" stroke="#000" stroke-width="0.45"/>
<line x1="51.50" y1="390.37" x2="55.50" y2="390.37" stroke="#000" stroke-width="0.45"/>
<line x1="51.50" y1="384.07" x2="55.50" y2="384.07" stroke="#000" stroke-width="0.45"/>
<line x1="51.50" y1="378.92" x2="55.50" y2="378.92" stroke="#000" stroke-width="0.45"/>
<line x1="51.50" y1="374.57" x2="55.50" y2="374.57" stroke="#000" stroke-width="0.45"/>
<line x1="51.50" y1="370.80" x2="55.50" y2="370.80" stroke="#000" stroke-width="0.45"/>
<line x1="51.50" y1="367.47" x2="55.50" y2="367.47" stroke="#000" stroke-width="0.45"/>
<line x1="51.50" y1="474.93" x2="55.50" y2="474.93" stroke="#000" stroke-width="0.45"/>
<line x1="51.50" y1="463.49" x2="55.50" y2="463.49" stroke="#000" stroke-width="0.45"/>
<line x1="51.50" y1="455.37" x2="55.50" y2="455.37" stroke="#000" stroke-width="0.45"/>
<line x1="51.50" y1="449.07" x2="55.50" y2="449.07" stroke="#000" stroke-width="0.45"/>
<line x1="51.50" y1="443.92" x2="55.50" y2="443.92" stroke="#000" stroke-width="0.45"/>
<line x1="51.50" y1="439.57" x2="55.50" y2="439.57" stroke="#000" stroke-width="0.45"/>
<line x1="51.50" y1="435.80" x2="55.50" y2="435.80" stroke="#000" stroke-width="0.45"/>
<line x1="51.50" y1="432.47" x2="55.50" y2="432.47" stroke="#000" stroke-width="0.45"/>
<line x1="271.50" y1="250.96" x2="278.80" y2="250.96" stroke="#000" stroke-width="0.42"/>
<line x1="271.50" y1="267.41" x2="278.80" y2="267.41" stroke="#000" stroke-width="0.42"/>
<line x1="271.50" y1="283.87" x2="278.80" y2="283.87" stroke="#000" stroke-width="0.42"/>
<line x1="271.50" y1="300.32" x2="278.80" y2="300.32" stroke="#000" stroke-width="0.42"/>
<line x1="271.50" y1="316.78" x2="278.80" y2="316.78" stroke="#000" stroke-width="0.42"/>
<line x1="271.50" y1="333.23" x2="278.80" y2="333.23" stroke="#000" stroke-width="0.42"/>
<line x1="271.50" y1="349.69" x2="278.80" y2="349.69" stroke="#000" stroke-width="0.42"/>
<line x1="271.50" y1="380.96" x2="278.80" y2="380.96" stroke="#000" stroke-width="0.42"/>
<line x1="271.50" y1="397.41" x2="278.80" y2="397.41" stroke="#000" stroke-width="0.42"/>
<line x1="271.50" y1="413.87" x2="278.80" y2="413.87" stroke="#000" stroke-width="0.42"/>
<line x1="271.50" y1="430.32" x2="278.80" y2="430.32" stroke="#000" stroke-width="0.42"/>
<line x1="271.50" y1="446.78" x2="278.80" y2="446.78" stroke="#000" stroke-width="0.42"/>
<line x1="271.50" y1="463.23" x2="278.80" y2="463.23" stroke="#000" stroke-width="0.42"/>
<line x1="271.50" y1="479.69" x2="278.80" y2="479.69" stroke="#000" stroke-width="0.42"/>
<text x="41.5" y="303.1" font-family="Liberation Sans, sans-serif" font-size="10.0" font-weight="bold" text-anchor="end" fill="#000" >1</text>
<text x="41.5" y="433.1" font-family="Liberation Sans, sans-serif" font-size="10.0" font-weight="bold" text-anchor="end" fill="#000" >1</text>
<text x="39.4" y="368.0" font-family="Liberation Sans, sans-serif" font-size="10.0" font-weight="bold" text-anchor="end" fill="#000" >10</text>
<text x="49.5" y="359.4" font-family="Liberation Sans, sans-serif" font-size="8.2" font-weight="bold" text-anchor="end" fill="#000" >-1</text>
<text x="39.4" y="498.0" font-family="Liberation Sans, sans-serif" font-size="10.0" font-weight="bold" text-anchor="end" fill="#000" >10</text>
<text x="49.5" y="489.4" font-family="Liberation Sans, sans-serif" font-size="8.2" font-weight="bold" text-anchor="end" fill="#000" >-1</text>
<text x="264.5" y="238.9" font-family="Liberation Sans, sans-serif" font-size="10.0" font-weight="bold" text-anchor="end" fill="#000" >0.6</text>
<text x="264.5" y="255.35569620253165" font-family="Liberation Sans, sans-serif" font-size="10.0" font-weight="bold" text-anchor="end" fill="#000" >0.5</text>
<text x="264.5" y="271.81139240506326" font-family="Liberation Sans, sans-serif" font-size="10.0" font-weight="bold" text-anchor="end" fill="#000" >0.4</text>
<text x="264.5" y="288.2670886075949" font-family="Liberation Sans, sans-serif" font-size="10.0" font-weight="bold" text-anchor="end" fill="#000" >0.3</text>
<text x="264.5" y="304.72278481012654" font-family="Liberation Sans, sans-serif" font-size="10.0" font-weight="bold" text-anchor="end" fill="#000" >0.2</text>
<text x="264.5" y="321.1784810126582" font-family="Liberation Sans, sans-serif" font-size="10.0" font-weight="bold" text-anchor="end" fill="#000" >0.1</text>
<text x="264.5" y="337.6341772151898" font-family="Liberation Sans, sans-serif" font-size="10.0" font-weight="bold" text-anchor="end" fill="#000" >0</text>
<text x="264.5" y="354.0898734177215" font-family="Liberation Sans, sans-serif" font-size="10.0" font-weight="bold" text-anchor="end" fill="#000" >-0.1</text>
<text x="264.5" y="368.9" font-family="Liberation Sans, sans-serif" font-size="10.0" font-weight="bold" text-anchor="end" fill="#000" >0.6</text>
<text x="264.5" y="385.3556962025316" font-family="Liberation Sans, sans-serif" font-size="10.0" font-weight="bold" text-anchor="end" fill="#000" >0.5</text>
<text x="264.5" y="401.81139240506326" font-family="Liberation Sans, sans-serif" font-size="10.0" font-weight="bold" text-anchor="end" fill="#000" >0.4</text>
<text x="264.5" y="418.2670886075949" font-family="Liberation Sans, sans-serif" font-size="10.0" font-weight="bold" text-anchor="end" fill="#000" >0.3</text>
<text x="264.5" y="434.72278481012654" font-family="Liberation Sans, sans-serif" font-size="10.0" font-weight="bold" text-anchor="end" fill="#000" >0.2</text>
<text x="264.5" y="451.1784810126582" font-family="Liberation Sans, sans-serif" font-size="10.0" font-weight="bold" text-anchor="end" fill="#000" >0.1</text>
<text x="264.5" y="467.6341772151898" font-family="Liberation Sans, sans-serif" font-size="10.0" font-weight="bold" text-anchor="end" fill="#000" >0</text>
<text x="264.5" y="484.0898734177215" font-family="Liberation Sans, sans-serif" font-size="10.0" font-weight="bold" text-anchor="end" fill="#000" >-0.1</text>
<text x="85.9" y="506.0" font-family="Liberation Sans, sans-serif" font-size="9.8" font-weight="bold" text-anchor="middle" fill="#000" >-100</text>
<text x="128.6" y="506.0" font-family="Liberation Sans, sans-serif" font-size="9.8" font-weight="bold" text-anchor="middle" fill="#000" >0</text>
<text x="171.6" y="506.0" font-family="Liberation Sans, sans-serif" font-size="9.8" font-weight="bold" text-anchor="middle" fill="#000" >100</text>
<text x="205.8" y="523.3" font-family="Liberation Sans, sans-serif" font-size="13" font-weight="bold" text-anchor="end" fill="#000"><tspan font-weight="normal" font-size="12.5">Θ</tspan><tspan font-size="8.8" dy="4.3" dx="0.5">cm</tspan><tspan dy="-4.3"> (deg)</tspan></text>
<text x="305.5" y="506.0" font-family="Liberation Sans, sans-serif" font-size="9.8" font-weight="bold" text-anchor="middle" fill="#000" >-100</text>
<text x="348.6" y="506.0" font-family="Liberation Sans, sans-serif" font-size="9.8" font-weight="bold" text-anchor="middle" fill="#000" >0</text>
<text x="391.5" y="506.0" font-family="Liberation Sans, sans-serif" font-size="9.8" font-weight="bold" text-anchor="middle" fill="#000" >100</text>
<text x="425.8" y="523.3" font-family="Liberation Sans, sans-serif" font-size="13" font-weight="bold" text-anchor="end" fill="#000"><tspan font-weight="normal" font-size="12.5">Θ</tspan><tspan font-size="8.8" dy="4.3" dx="0.5">cm</tspan><tspan dy="-4.3"> (deg)</tspan></text>
<text transform="translate(19.1,335.3) rotate(-90)" font-family="Liberation Sans, sans-serif" font-size="13" font-weight="bold" fill="#000">d<tspan font-size="9.3" dy="-6.3">5</tspan><tspan dy="6.3" dx="0.4" font-weight="normal" font-size="12.6">σ</tspan> (pb/MeV/sr<tspan font-size="9.3" dy="-6.3">2</tspan><tspan dy="6.3">)</tspan></text>
<text transform="translate(239.0,291.2) rotate(-90)" font-family="Liberation Sans, sans-serif" font-size="13.5" font-weight="bold" fill="#000" textLength="56" lengthAdjust="spacingAndGlyphs">GP effect</text>
<text x="61.90" y="254.00" font-family="Liberation Sans, sans-serif" font-size="11.6" font-style="italic" fill="#ff00ff" stroke="#ff00ff" stroke-width="0.12">φ</text>
<text x="73.30" y="254.00" font-family="Liberation Sans, sans-serif" font-size="11.6" fill="#ff00ff" stroke="#ff00ff" stroke-width="0.12">=</text>
<text x="84.70" y="254.00" font-family="Liberation Sans, sans-serif" font-size="11.6" fill="#ff00ff" stroke="#ff00ff" stroke-width="0.12">0</text>
<circle cx="93.30" cy="247.10" r="1.2" fill="none" stroke="#ff00ff" stroke-width="0.85"/>
<text x="97.40" y="254.00" font-family="Liberation Sans, sans-serif" font-size="11.6" fill="#ff00ff" stroke="#ff00ff" stroke-width="0.12">and</text>
<text x="121.30" y="254.00" font-family="Liberation Sans, sans-serif" font-size="11.6" fill="#ff00ff" stroke="#ff00ff" stroke-width="0.12">180</text>
<circle cx="142.50" cy="247.10" r="1.2" fill="none" stroke="#ff00ff" stroke-width="0.85"/>
<text x="283.80" y="254.00" font-family="Liberation Sans, sans-serif" font-size="11.6" font-style="italic" fill="#ff00ff" stroke="#ff00ff" stroke-width="0.12">φ</text>
<text x="295.20" y="254.00" font-family="Liberation Sans, sans-serif" font-size="11.6" fill="#ff00ff" stroke="#ff00ff" stroke-width="0.12">=</text>
<text x="306.60" y="254.00" font-family="Liberation Sans, sans-serif" font-size="11.6" fill="#ff00ff" stroke="#ff00ff" stroke-width="0.12">0</text>
<circle cx="315.20" cy="247.10" r="1.2" fill="none" stroke="#ff00ff" stroke-width="0.85"/>
<text x="319.30" y="254.00" font-family="Liberation Sans, sans-serif" font-size="11.6" fill="#ff00ff" stroke="#ff00ff" stroke-width="0.12">and</text>
<text x="343.20" y="254.00" font-family="Liberation Sans, sans-serif" font-size="11.6" fill="#ff00ff" stroke="#ff00ff" stroke-width="0.12">180</text>
<circle cx="364.40" cy="247.10" r="1.2" fill="none" stroke="#ff00ff" stroke-width="0.85"/>
<text x="61.90" y="384.00" font-family="Liberation Sans, sans-serif" font-size="11.6" font-style="italic" fill="#ff00ff" stroke="#ff00ff" stroke-width="0.12">φ</text>
<text x="73.30" y="384.00" font-family="Liberation Sans, sans-serif" font-size="11.6" fill="#ff00ff" stroke="#ff00ff" stroke-width="0.12">=</text>
<text x="84.70" y="384.00" font-family="Liberation Sans, sans-serif" font-size="11.6" fill="#ff00ff" stroke="#ff00ff" stroke-width="0.12">90</text>
<circle cx="99.90" cy="377.10" r="1.2" fill="none" stroke="#ff00ff" stroke-width="0.85"/>
<text x="283.70" y="384.00" font-family="Liberation Sans, sans-serif" font-size="11.6" font-style="italic" fill="#ff00ff" stroke="#ff00ff" stroke-width="0.12">φ</text>
<text x="295.10" y="384.00" font-family="Liberation Sans, sans-serif" font-size="11.6" fill="#ff00ff" stroke="#ff00ff" stroke-width="0.12">=</text>
<text x="306.50" y="384.00" font-family="Liberation Sans, sans-serif" font-size="11.6" fill="#ff00ff" stroke="#ff00ff" stroke-width="0.12">90</text>
<circle cx="321.70" cy="377.10" r="1.2" fill="none" stroke="#ff00ff" stroke-width="0.85"/>
</svg>
</body></html>
